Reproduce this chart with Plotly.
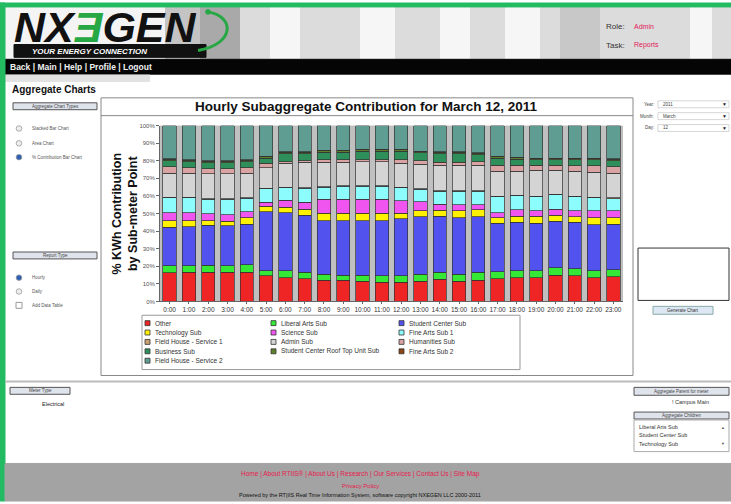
"""Hourly subaggregate % contribution chart inside the NXEGEN report page."""

import plotly.graph_objects as go

W, H = 731, 504
FONT = "Liberation Sans, Arial, sans-serif"

HOURS = [f"{h}:00" for h in range(24)]

SERIES = [
    "Other", "Liberal Arts Sub", "Student Center Sub",
    "Technology Sub", "Science Sub", "Fine Arts Sub 1",
    "Field House - Service 1", "Admin Sub", "Humanities Sub",
    "Business Sub", "Student Center Roof Top Unit Sub", "Fine Arts Sub 2",
    "Field House - Service 2",
]

COLORS = [
    "#ef2424", "#35e835", "#5252ee",
    "#fff200", "#f055f0", "#8cfcfc",
    "#c9a06e", "#d4d4d4", "#d9a3a3",
    "#2f8f5b", "#5f7f2a", "#8b4513",
    "#5f9d92",
]

# percent of hourly kWh, one list per sub-meter (hours 0..23)
other = [16.2, 16.5, 16.7, 16.5, 16.7, 14.5, 13.5, 12.8, 12.0, 12.0, 11.5, 11.0,
         11.0, 11.5, 12.5, 11.5, 12.0, 13.0, 13.5, 13.5, 15.0, 14.5, 13.5, 14.0]
liberal_arts = [4.1, 3.8, 3.8, 3.7, 4.0, 3.0, 4.0, 3.9, 3.5, 3.0, 3.5, 3.5,
                3.7, 3.8, 4.0, 4.0, 4.5, 4.0, 4.0, 4.0, 4.0, 4.0, 4.0, 4.0]
student_center = [22.0, 22.2, 22.7, 22.8, 23.3, 33.5, 33.0, 32.3, 30.5, 31.0, 31.0, 31.5,
                  32.2, 32.9, 32.0, 32.0, 31.5, 27.5, 27.5, 27.0, 26.5, 26.5, 26.0, 26.0]
technology = [3.7, 3.5, 2.6, 2.5, 3.5, 3.0, 3.0, 3.5, 4.0, 4.0, 4.0, 4.0,
              3.2, 3.4, 3.3, 4.0, 4.0, 3.0, 3.5, 4.0, 3.5, 3.0, 4.0, 3.5]
science = [4.5, 4.3, 3.9, 3.7, 3.5, 2.5, 4.0, 4.0, 8.0, 8.0, 8.0, 8.0,
           7.1, 5.0, 3.5, 3.5, 3.0, 3.0, 3.5, 3.0, 3.5, 3.5, 4.0, 4.0]
fine_arts_1 = [8.5, 8.7, 8.3, 8.8, 7.7, 7.5, 7.0, 7.8, 7.0, 7.5, 7.5, 7.5,
               7.4, 7.1, 7.2, 7.5, 7.5, 9.0, 8.0, 8.0, 8.0, 8.0, 7.5, 7.0]
field_house_1 = [0.3, 0.3, 0.3, 0.3, 0.3, 0.3, 0.3, 0.3, 0.3, 0.3, 0.3, 0.3,
                 0.3, 0.3, 0.3, 0.3, 0.3, 0.3, 0.3, 0.3, 0.3, 0.3, 0.3, 0.3]
admin = [13.7, 13.7, 14.2, 14.2, 14.0, 11.7, 13.7, 14.4, 13.7, 13.2, 13.7, 13.7,
         13.7, 14.0, 14.7, 14.7, 14.7, 14.2, 13.7, 14.7, 13.7, 14.2, 14.2, 14.2]
humanities = [3.5, 3.0, 3.0, 3.0, 3.0, 2.5, 1.0, 1.0, 1.5, 1.5, 1.0, 1.0,
              1.8, 1.9, 1.5, 1.5, 2.0, 3.5, 3.5, 3.0, 3.0, 3.0, 3.5, 3.5]
business = [3.4, 3.4, 3.4, 3.4, 3.4, 2.9, 4.4, 3.9, 4.4, 4.4, 4.9, 4.9,
            4.9, 4.5, 4.9, 4.9, 3.9, 3.9, 3.4, 2.9, 2.9, 3.4, 3.4, 3.4]
roof_top = [0.8, 0.8, 0.8, 0.8, 0.8, 0.8, 0.8, 0.8, 0.8, 0.8, 0.8, 0.8,
            0.8, 0.8, 0.8, 0.8, 0.8, 0.8, 0.8, 0.8, 0.8, 0.8, 0.8, 0.8]
fine_arts_2 = [0.3, 0.3, 0.3, 0.3, 0.3, 0.3, 0.3, 0.3, 0.3, 0.3, 0.3, 0.3,
               0.3, 0.3, 0.3, 0.3, 0.3, 0.3, 0.3, 0.3, 0.3, 0.3, 0.3, 0.3]
field_house_2 = [19.0, 19.5, 20.0, 20.0, 19.5, 17.5, 15.0, 15.0, 14.0, 14.0, 13.5, 13.5,
                 13.6, 14.5, 15.0, 15.0, 15.5, 17.5, 18.0, 18.5, 18.5, 18.5, 18.5, 19.0]

VALUES = [other, liberal_arts, student_center, technology, science, fine_arts_1,
          field_house_1, admin, humanities, business, roof_top, fine_arts_2,
          field_house_2]

shapes = []
annotations = []


def px(x):
    return x / W


def py(y):
    return 1 - y / H


def box(x0, y0, x1, y1, fill=None, line="#888", lw=1, layer="above", opacity=1):
    shapes.append(dict(
        type="rect", xref="paper", yref="paper",
        x0=px(x0), x1=px(x1), y0=py(y1), y1=py(y0),
        fillcolor=fill or "rgba(0,0,0,0)",
        line=dict(color=line, width=lw), layer=layer, opacity=opacity,
    ))


def circle(cx, cy, r, fill, line="#777"):
    shapes.append(dict(
        type="circle", xref="paper", yref="paper",
        x0=px(cx - r), x1=px(cx + r), y0=py(cy + r), y1=py(cy - r),
        fillcolor=fill, line=dict(color=line, width=0.8),
    ))


def hline(x0, x1, y, color="#888", lw=1):
    shapes.append(dict(type="line", xref="paper", yref="paper",
                       x0=px(x0), x1=px(x1), y0=py(y), y1=py(y),
                       line=dict(color=color, width=lw)))


def text(x, y, s, size=7, color="#222", anchor="left", angle=0):
    annotations.append(dict(
        xref="paper", yref="paper", x=px(x), y=py(y), text=s,
        showarrow=False, xanchor=anchor, yanchor="middle", textangle=angle,
        font=dict(size=size, color=color, family=FONT),
    ))


fig = go.Figure()
for name, vals, color in zip(SERIES, VALUES, COLORS):
    fig.add_trace(go.Bar(
        x=HOURS, y=vals, name=name,
        marker=dict(color=color, line=dict(color="#333", width=0.7)),
        showlegend=False,
    ))

# --- page chrome -----------------------------------------------------------
# header band with streaky gradient
box(5, 4, 731, 57, fill="#dcdcdc", line="rgba(0,0,0,0)", layer="below")
box(5, 4, 165, 57, fill="#f4f4f4", line="rgba(0,0,0,0)", layer="below")
box(165, 4, 200, 57, fill="#c4c4c4", line="rgba(0,0,0,0)", layer="below")
box(200, 4, 240, 57, fill="#a9a9a9", line="rgba(0,0,0,0)", layer="below")
for sx0, sx1 in [(270, 300), (360, 395), (440, 470), (505, 540), (690, 712)]:
    box(sx0, 4, sx1, 57, fill="#f6f6f6", line="rgba(0,0,0,0)", layer="below")
box(560, 4, 600, 57, fill="#c8c8c8", line="rgba(0,0,0,0)", layer="below")

# logo
box(14, 42, 206, 55, fill="#111", line="#111", layer="below")
annotations.append(dict(
    xref="paper", yref="paper", x=px(12), y=py(24), xanchor="left", yanchor="middle",
    showarrow=False, height=38,
    text="<b><i>NX<span style='color:#27a844'>Ǝ</span>GEN</i></b>",
    font=dict(size=43, color="#111", family=FONT),
))
text(30, 49, "<b><i>YOUR ENERGY CONNECTION</i></b>", size=8, color="#fff")
shapes.append(dict(
    type="path", xref="paper", yref="paper",
    path=(f"M {px(208)} {py(9)} C {px(236)} {py(14)}, {px(234)} {py(42)}, "
          f"{px(198)} {py(48)}"),
    line=dict(color="#27a844", width=3),
))
circle(208, 9, 2.5, "#27a844", line="#27a844")

text(604, 24, "Role:", size=8, color="#333")
text(632, 24, "Admin", size=7, color="#e0205a")
text(604, 43, "Task:", size=8, color="#333")
text(632, 43, "Reports", size=7, color="#e0205a")

# nav bar
box(5, 57, 731, 72, fill="#050505", line="#050505", layer="below")
text(8, 64.5, "<b>Back | Main | Help | Profile | Logout</b>", size=8.5, color="#f0f0f0")
box(5, 72, 150, 80, fill="#d0d0d0", line="rgba(0,0,0,0)", layer="below", opacity=0.6)

# green frame
box(0, 0, 5, 504, fill="#22bb62", line="#22bb62", layer="below")
box(0, 0, 731, 4, fill="#22bb62", line="#22bb62", layer="below")

text(10, 88, "<b>Aggregate Charts</b>", size=10, color="#111")

# left panel
box(13, 101, 97, 108, fill="#dfe3ec", line="#555", lw=1)
text(55, 104.5, "Aggregate Chart Types", size=4.5, color="#444", anchor="center")
for cy, label, sel in [(127, "Stacked Bar Chart", False), (142, "Area Chart", False),
                       (156, "% Contribution Bar Chart", True)]:
    circle(19, cy, 2.8, "#2d5fb5" if sel else "#eee", line="#999")
    text(30, cy, label, size=4.5, color="#555")
box(13, 252, 97, 259, fill="#dfe3ec", line="#555", lw=1)
text(55, 255.5, "Report Type", size=4.5, color="#444", anchor="center")
circle(19, 278, 2.8, "#2d5fb5", line="#999")
text(30, 278, "Hourly", size=4.5, color="#555")
circle(19, 292, 2.8, "#eee", line="#999")
text(30, 292, "Daily", size=4.5, color="#555")
box(16, 303, 22, 309, fill="#fff", line="#999")
text(30, 306, "Add Data Table", size=4.5, color="#555")

# right panel
for cy, label, val in [(102.5, "Year:", "2011"), (114.5, "Month:", "March"), (126.5, "Day:", "12")]:
    box(658, cy - 3.5, 729, cy + 3.5, fill="#fff", line="#ccc", lw=0.8)
    text(656, cy, label, size=4.5, color="#444", anchor="right")
    text(661, cy, val, size=4.5, color="#444")
    text(724, cy, "▼", size=5, color="#222", anchor="center")
box(638, 248, 729, 301, fill="#fff", line="#333", lw=1)
box(653, 307, 713, 315, fill="#dde8f4", line="#8aa", lw=1)
text(683, 311, "Generate Chart", size=4.5, color="#333", anchor="center")

# chart frame
box(101, 96, 633, 377, line="#888", lw=1)
hline(101, 633, 114, color="#888")
hline(5, 731, 383, color="#bbb", lw=2)

# lower panels
box(10, 389, 70, 396, fill="#dfe3ec", line="#555")
text(40, 392.5, "Meter Type", size=4.5, color="#444", anchor="center")
text(53, 406, "Electrical", size=5.5, color="#222", anchor="center")
box(634, 389, 729, 397, fill="#dfe3ec", line="#555")
text(681, 393, "Aggregate Parent for meter", size=4.5, color="#444", anchor="center")
text(690, 404, "! Campus Main", size=5.5, color="#333", anchor="center")
box(634, 414, 729, 421, fill="#dfe3ec", line="#555")
text(681, 417.5, "Aggregate Children", size=4.5, color="#444", anchor="center")
box(634, 422, 729, 454, fill="#fff", line="#aaa")
for cy, label in [(429, "Liberal Arts Sub"), (437.5, "Student Center Sub"), (446, "Technology Sub")]:
    text(637, cy, label, size=5.5, color="#333")
text(723, 430, "▲", size=4, color="#555", anchor="center")
text(723, 446, "▼", size=4, color="#555", anchor="center")

# footer
box(5, 466, 731, 504, fill="#a3a3a3", line="#a3a3a3", layer="below")
text(360, 477, "Home | About RTIIS® | About Us | Research | Our Services | Contact Us | Site Map",
     size=6.5, color="#e6204e", anchor="center")
text(360, 488.5, "Privacy Policy", size=6, color="#e6204e", anchor="center")
text(360, 497.5, "Powered by the RT|IIS Real Time Information System, software copyright "
     "NXEGEN LLC 2000-2011", size=5.5, color="#111", anchor="center")

# --- chart texts and legend -------------------------------------------------
text(367, 105, "<b>Hourly Subaggregate Contribution for March 12, 2011</b>",
     size=13.5, color="#111", anchor="center")
text(125, 213, "<b>% KWh Contribution<br>by Sub-meter Point</b>", size=12.5,
     color="#111", anchor="center", angle=-90)

box(142, 316, 520, 371, fill="#fff", line="#999", layer="below")
col_x = [145, 271, 399]
row_y = [324, 333.5, 343, 352.5, 362]
for i, (name, color) in enumerate(zip(SERIES, COLORS)):
    lx, ly = col_x[i % 3], row_y[i // 3]
    box(lx, ly - 2.5, lx + 5, ly + 2.5, fill=color, line="#333", lw=0.8)
    text(lx + 8, ly, name, size=6.5, color="#333")

fig.update_layout(
    width=W, height=H, autosize=False,
    margin=dict(l=0, r=0, t=0, b=0),
    paper_bgcolor="#ffffff",
    plot_bgcolor="#c0c0c0",
    barmode="stack",
    bargap=0.31,
    showlegend=False,
    font=dict(family=FONT),
    xaxis=dict(
        domain=[px(160), px(623)], anchor="y",
        tickfont=dict(size=6.5, color="#333"),
        ticks="outside", ticklen=2, tickcolor="#666",
        showline=True, linecolor="#666", showgrid=False,
    ),
    yaxis=dict(
        domain=[py(302), py(124)], anchor="x",
        range=[0, 100], dtick=10, ticksuffix="%",
        tickfont=dict(size=6, color="#555"),
        ticks="outside", ticklen=3, tickcolor="#666",
        showline=True, linecolor="#666", showgrid=False, zeroline=False,
    ),
    shapes=shapes,
    annotations=annotations,
)

# the page body has a default 8px margin; drop it so the figure fills the window
fig.write_html(
    "out.html",
    config={"displayModeBar": False},
    post_script="document.body.style.margin='0';",
)
